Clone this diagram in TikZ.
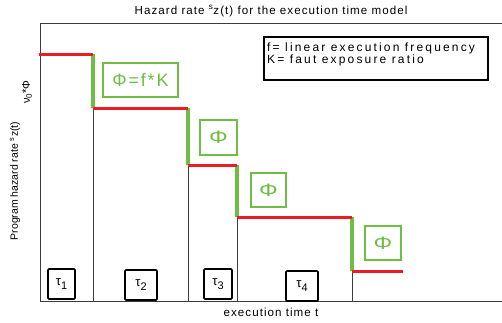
\documentclass[tikz,border=0pt]{standalone}
\usepackage{graphicx}
\usepackage{fontspec}
\setmainfont{Liberation Sans}
\newfontfamily\spacedA[LetterSpace=9]{Liberation Sans}
\newfontfamily\spacedB[LetterSpace=18]{Liberation Sans}
\newfontfamily\spacedC[LetterSpace=10]{Liberation Sans}
\definecolor{stepred}{RGB}{236,28,36}
\definecolor{phigreen}{RGB}{110,190,70}
\definecolor{axisgray}{RGB}{60,60,60}
\tikzset{
  axisline/.style={draw=axisgray, line width=0.9pt},
  dropline/.style={draw=axisgray, line width=0.8pt},
  redlevel/.style={draw=stepred, line width=3pt},
  greenjump/.style={draw=phigreen, line width=4.5pt},
  phibox/.style={draw=phigreen, line width=1.6pt, text=phigreen, inner sep=0pt,
    font=\spacedC\fontsize{18}{20}\selectfont},
  taubox/.style={draw=black, line width=1.6pt, rounded corners=1pt, inner sep=0pt,
    minimum height=30pt, font=\fontsize{13}{15}\selectfont},
  legendbox/.style={draw=black, line width=1.5pt, inner sep=0pt},
}
\newcommand{\tausub}[1]{τ\raisebox{-4pt}{\fontsize{11}{12}\selectfont #1}}
\newcommand{\widephi}{\scalebox{1.3}[1]{Φ}}
\begin{document}
\begin{tikzpicture}[x=1pt,y=-1pt]
\useasboundingbox (0,0) rectangle (502,322);

% axes frame
\coordinate (ytop) at (40,23);
\coordinate (origin) at (40,301);
\coordinate (xend) at (502,301);
\coordinate (topend) at (502,23);
\draw[axisline] (topend) -- (ytop) -- (origin) -- (xend);

% corners of the step function
\coordinate (s0) at (39,54);
\coordinate (s1) at (93,54);
\coordinate (s2) at (93,108);
\coordinate (s3) at (188,108);
\coordinate (s4) at (188,165);
\coordinate (s5) at (237,165);
\coordinate (s6) at (237,217);
\coordinate (s7) at (352,217);
\coordinate (s8) at (352,271);
\coordinate (s9) at (403,271);

% failure times dropping to the time axis
\foreach \c in {s2,s4,s6,s8}
  \draw[dropline] (\c) -- (\c |- origin);

% jumps of size Phi
\draw[greenjump] (s1) -- (s2);
\draw[greenjump] (s3) -- (s4);
\draw[greenjump] (s5) -- (s6);
\draw[greenjump] (s7) -- (s8);

% hazard levels
\draw[redlevel] (s0) -- (s1);
\draw[redlevel] (s2) -- (s3);
\draw[redlevel] (s4) -- (s5);
\draw[redlevel] (s6) -- (s7);
\draw[redlevel] (s8) -- (s9);

% jump labels
\node[phibox, minimum width=75pt, minimum height=34pt] (phi1) at (140.5,80) {Φ=f*K};
\node[phibox, minimum width=37pt, minimum height=35pt] (phi2) at (218.5,137.5) {\widephi};
\node[phibox, minimum width=35pt, minimum height=34pt] (phi3) at (268.5,190) {\widephi};
\node[phibox, minimum width=36pt, minimum height=34pt] (phi4) at (383,243) {\widephi};

% inter-failure times
\node[taubox, minimum width=27pt] (tau1) at (61.5,284) {\tausub{1}};
\node[taubox, minimum width=32pt] (tau2) at (141,285) {\tausub{2}};
\node[taubox, minimum width=28pt] (tau3) at (218,284) {\tausub{3}};
\node[taubox, minimum width=32pt] (tau4) at (302,286) {\tausub{4}};

% legend
\node[legendbox, anchor=north west, minimum width=224pt, minimum height=43pt] (legend) at (263,36) {};
\node[anchor=west, align=left, inner sep=0pt, font=\spacedB\fontsize{12}{12}\selectfont]
  (legendtext) at (267,54) {f= linear execution frequency\\K= faut exposure ratio};

% titles
\node[font=\spacedA\fontsize{11.6}{13}\selectfont] (title) at (271,11)
  {Hazard rate \textsuperscript{s}z(t) for the execution time model};
\node[font=\spacedA\fontsize{11.6}{13}\selectfont] (xlabel) at (271,312) {execution time t};
\node[rotate=90, font=\fontsize{10.5}{12}\selectfont] (ylabel) at (15,181)
  {Program hazard rate \textsuperscript{s}z(t)};
\node[rotate=90, font=\fontsize{11}{12}\selectfont] (yinit) at (27,92)
  {ν\raisebox{-2pt}{\fontsize{8}{9}\selectfont 0}*Φ};
\end{tikzpicture}
\end{document}
